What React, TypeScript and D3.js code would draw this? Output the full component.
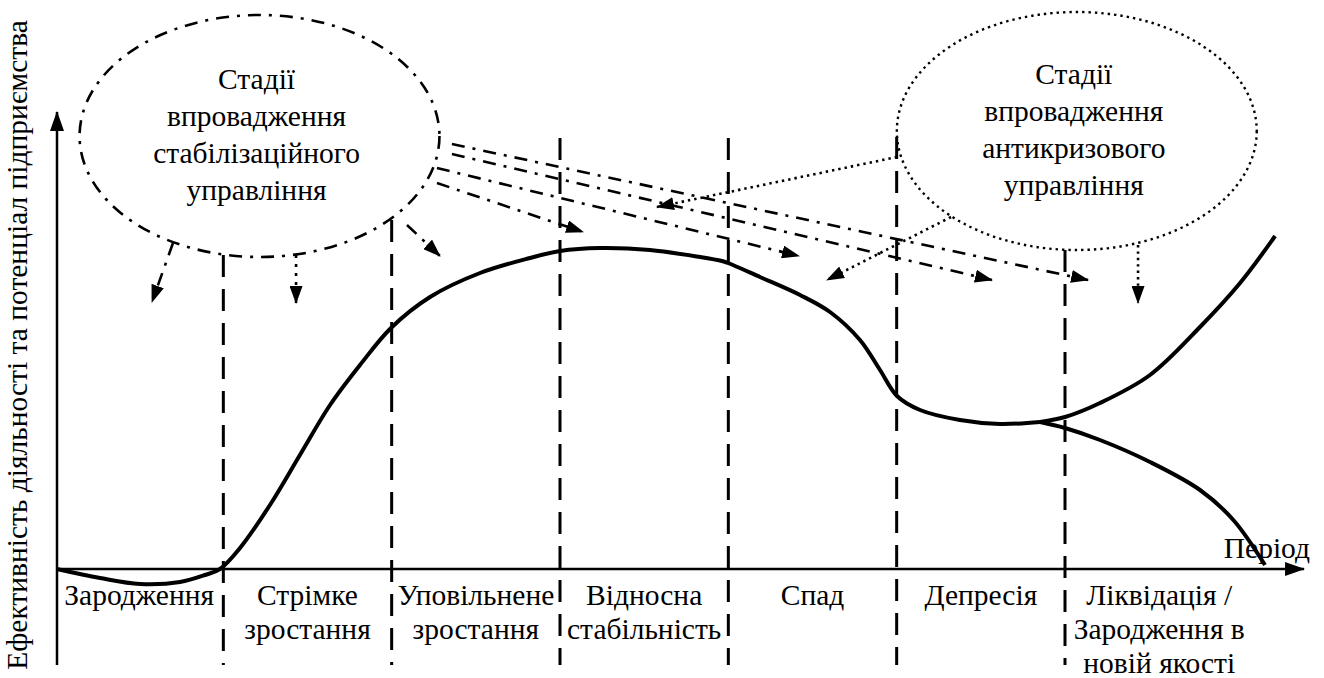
import React from "react";
import * as d3 from "d3";

// ---- data ----
const stageLabels: string[][] = [
  ["Зародження"],
  ["Стрімке", "зростання"],
  ["Уповільнене", "зростання"],
  ["Відносна", "стабільність"],
  ["Спад"],
  ["Депресія"],
  ["Ліквідація /", "Зародження в", "новій якості"],
];
const stageBounds = [0, 1, 2, 3, 4, 5, 6, 7.42];
// top of each dashed boundary (effectiveness units)
const boundTops = [78.5, 87.25, 107.75, 107.75, 108, 79.75];

// main curve (period, effectiveness)
const curveT = [0.01, 0.267, 0.505, 0.743, 0.891, 0.98, 1.099, 1.277, 1.455, 1.634, 1.812, 1.996, 2.228, 2.525, 2.822, 3.0, 3.238, 3.535, 3.832, 3.962, 3.998, 4.188, 4.426, 4.604, 4.782, 4.901, 5.002, 5.139, 5.376, 5.614, 5.852];
const curveV = [0, -2.25, -3.75, -3.25, -1.5, 0, 5.25, 16, 28.5, 41, 51, 60.25, 68, 74, 77.75, 79.5, 80.25, 79.75, 78, 77, 76.5, 73, 68.5, 64.25, 57.25, 49.75, 43.25, 39.75, 37.25, 36.25, 36.75];
const upperT = [5.852, 6.0, 6.208, 6.505, 6.802, 7.04, 7.248];
const upperV = [36.75, 38, 41.5, 48.5, 60.5, 71.5, 83.25];
const lowerT = [5.852, 6.0, 6.208, 6.505, 6.802, 7.0, 7.188];
const lowerV = [36.75, 35.25, 32.25, 26.75, 19.75, 12.25, 1];

// annotation ellipses: centre (period, effectiveness), radii
const ellipseTitles = [
  ["Стадії", "впровадження", "стабілізаційного", "управління"],
  ["Стадії", "впровадження", "антикризового", "управління"],
];
const ellipseCT = [1.215, 6.07];
const ellipseCV = [108.25, 109.5];
const ellipseRT = [1.069, 1.069];
const ellipseRV = [30.25, 29.75];

// arrows [t0, v0, t1, v1]
const stabArrows = [
  [0.701, 81.5, 0.576, 66.75],
  [1.432, 78.5, 1.432, 66.5],
  [2.091, 86, 2.287, 78.25],
  [2.269, 96.5, 3.137, 84.25],
  [2.269, 100.25, 4.42, 78.25],
  [2.358, 103.75, 5.566, 72.25],
  [2.358, 106.25, 6.137, 72.25],
];
const crisisArrows = [
  [5.002, 103, 3.576, 90.5],
  [5.323, 88, 4.586, 72.25],
  [6.434, 81, 6.434, 66.5],
];

const yAxisTitle = "Ефективність діяльності та потенціал підприємства";
const xAxisTitle = "Період";

const W = 1324;
const H = 678;
const FONT = '"Liberation Serif", serif';
const txt: React.CSSProperties = { fontFamily: FONT, fontSize: 29.5 };

export default function App() {
  const x = d3.scaleLinear().domain([0, 6]).range([55, 1065]);
  const y = d3.scaleLinear().domain([0, 100]).range([569, 169]);
  const line = d3
    .line<[number, number]>()
    .x((d) => x(d[0]))
    .y((d) => y(d[1]))
    .curve(d3.curveCatmullRom.alpha(0.5));

  const main = curveT.map((t, i) => [t, curveV[i]] as [number, number]);
  const up = upperT.map((t, i) => [t, upperV[i]] as [number, number]);
  const lo = lowerT.map((t, i) => [t, lowerV[i]] as [number, number]);

  const axisY0 = 665;
  const axisX0 = x(0) + 2;
  const xEnd = x(stageBounds[stageBounds.length - 1]);

  const arrowLine = (a: number[], key: string, dash: string, marker: string) => (
    <line
      key={key}
      x1={x(a[0])}
      y1={y(a[1])}
      x2={x(a[2])}
      y2={y(a[3])}
      stroke="#000"
      strokeWidth={2.6}
      strokeDasharray={dash}
      markerEnd={`url(#${marker})`}
    />
  );

  return (
    <svg
      width={W}
      height={H}
      style={{ position: "absolute", left: 0, top: 0, background: "#fff" }}
    >
      <defs>
        <marker id="ah" viewBox="0 0 18 13" refX="17" refY="6.5" markerWidth="18" markerHeight="13" markerUnits="userSpaceOnUse" orient="auto">
          <path d="M0,0 L18,6.5 L0,13 Z" fill="#000" />
        </marker>
        <marker id="axh" viewBox="0 0 20 14" refX="19" refY="7" markerWidth="20" markerHeight="14" markerUnits="userSpaceOnUse" orient="auto">
          <path d="M0,0 L20,7 L0,14 Z" fill="#000" />
        </marker>
      </defs>

      {/* axes */}
      <line x1={axisX0} y1={axisY0} x2={axisX0} y2={112} stroke="#000" strokeWidth={2.5} markerEnd="url(#axh)" />
      <line x1={axisX0} y1={y(0)} x2={xEnd} y2={y(0)} stroke="#000" strokeWidth={2.5} markerEnd="url(#axh)" />

      {/* stage boundaries */}
      {stageBounds.slice(1, 7).map((b, i) => (
        <line
          key={"b" + i}
          x1={x(b)}
          x2={x(b)}
          y1={y(boundTops[i])}
          y2={axisY0}
          stroke="#000"
          strokeWidth={3}
          strokeDasharray="22,12"
        />
      ))}

      {/* stage labels */}
      {stageLabels.map((lines, i) => {
        const cx = (x(stageBounds[i]) + x(Math.min(stageBounds[i + 1], 7.12))) / 2;
        return (
          <text key={"s" + i} x={cx} y={605} textAnchor="middle" style={txt}>
            {lines.map((l, j) => (
              <tspan key={j} x={cx} y={605 + j * 34}>
                {l}
              </tspan>
            ))}
          </text>
        );
      })}

      {/* axis titles */}
      <text x={1310} y={558} textAnchor="end" style={txt}>
        {xAxisTitle}
      </text>
      <text transform={`translate(27,345) rotate(-90)`} textAnchor="middle" style={txt}>
        {yAxisTitle}
      </text>

      {/* curve */}
      <path d={line(main) || ""} fill="none" stroke="#000" strokeWidth={4} strokeLinejoin="round" />
      <path d={line(up) || ""} fill="none" stroke="#000" strokeWidth={4} />
      <path d={line(lo) || ""} fill="none" stroke="#000" strokeWidth={4} />

      {/* ellipses */}
      {ellipseTitles.map((lines, i) => {
        const cx = x(ellipseCT[i]);
        const cy = y(ellipseCV[i]);
        const rx = x(ellipseCT[i] + ellipseRT[i]) - cx;
        const ry = cy - y(ellipseCV[i] + ellipseRV[i]);
        return (
          <g key={"e" + i}>
            <ellipse
              cx={cx}
              cy={cy}
              rx={rx}
              ry={ry}
              fill="none"
              stroke="#000"
              strokeWidth={i === 0 ? 2.6 : 2.4}
              strokeDasharray={i === 0 ? "13,8,3,8" : "2.4,4"}
            />
            {lines.map((l, j) => (
              <text key={j} x={cx - 3} y={cy - 47 + j * 37} textAnchor="middle" style={txt}>
                {l}
              </text>
            ))}
          </g>
        );
      })}

      {/* arrows */}
      {stabArrows.map((a, i) =>
        arrowLine(a, "sa" + i, i === 1 ? "3,6" : "13,8,3,8", "ah")
      )}
      {crisisArrows.map((a, i) => arrowLine(a, "ca" + i, "2.4,4", "ah"))}
    </svg>
  );
}
